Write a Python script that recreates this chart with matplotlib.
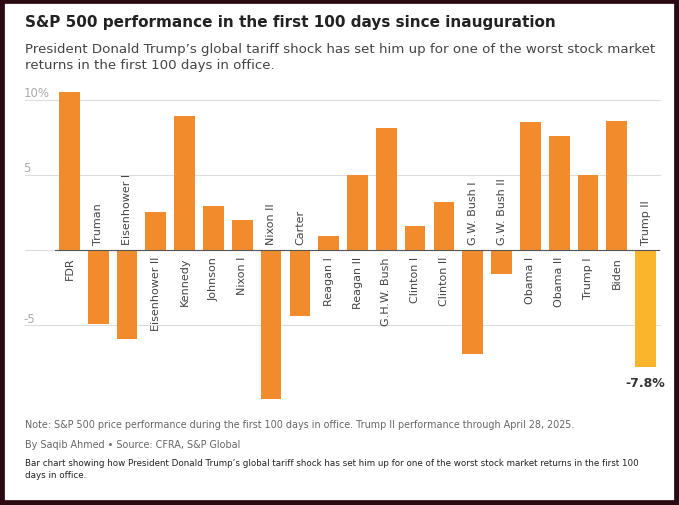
import matplotlib.pyplot as plt

presidents = ["FDR", "Truman", "Eisenhower I", "Eisenhower II", "Kennedy", "Johnson",
              "Nixon I", "Nixon II", "Carter", "Reagan I", "Reagan II", "G.H.W. Bush",
              "Clinton I", "Clinton II", "G.W. Bush I", "G.W. Bush II", "Obama I",
              "Obama II", "Trump I", "Biden", "Trump II"]
returns = [10.5, -4.9, -5.9, 2.5, 8.9, 2.9, 2.0, -9.9, -4.4, 0.9, 5.0, 8.1,
           1.6, 3.2, -6.9, -1.6, 8.5, 7.6, 5.0, 8.6, -7.8]
yticks = [-5, 0, 5, 10]
ytick_labels = ["-5", "", "5", "10%"]

fig = plt.figure(figsize=(6.79, 5.06), dpi=100)
fig.patch.set_facecolor("white")

# dark frame
frame = plt.Rectangle((0, 0), 1, 1, transform=fig.transFigure, fill=False,
                      edgecolor="#2b0a12", linewidth=7)
fig.add_artist(frame)

ax = fig.add_axes([55 / 679, 1 - 400 / 506, 605 / 679, 307 / 506])
x = range(len(presidents))
colors = ["#F28B2C"] * (len(presidents) - 1) + ["#FBB52C"]
ax.bar(x, returns, width=0.72, color=colors, zorder=2)
ax.set_xlim(-0.5, len(presidents) - 0.5)
ax.set_ylim(-9.9, 10.5)

for i, (name, v) in enumerate(zip(presidents, returns)):
    if v >= 0:
        ax.text(i, -0.4, name, rotation=90, ha="center", va="top", fontsize=8, color="#444444")
    else:
        ax.text(i, 0.4, name, rotation=90, ha="center", va="bottom", fontsize=8, color="#444444")
ax.text(len(presidents) - 1, returns[-1] - 0.6, "-7.8%", ha="center", va="top",
        fontsize=9, fontweight="bold", color="#333333")

ax.set_yticks(yticks)
ax.set_yticklabels([])
ax.set_xticks([])
for t, lab in zip(yticks, ytick_labels):
    ax.axhline(t, color="#dddddd", linewidth=0.8, zorder=1, xmin=-0.05, clip_on=False)
    ax.text(-0.052, t + 0.05, lab, transform=ax.get_yaxis_transform(), ha="left",
            va="bottom", fontsize=8.5, color="#aaaaaa")
ax.axhline(0, color="#555555", linewidth=0.8, zorder=3)
ax.tick_params(length=0)
for s in ax.spines.values():
    s.set_visible(False)

fig.text(25 / 679, 1 - 22 / 506, "S&P 500 performance in the first 100 days since inauguration",
         fontsize=11, fontweight="bold", color="#222222", va="center")
fig.text(25 / 679, 1 - 43 / 506,
         "President Donald Trump\u2019s global tariff shock has set him up for one of the worst stock market\nreturns in the first 100 days in office.",
         fontsize=9.6, color="#444444", va="top", linespacing=1.35)
fig.text(25 / 679, 1 - 425 / 506,
         "Note: S&P 500 price performance during the first 100 days in office. Trump II performance through April 28, 2025.",
         fontsize=6.9, color="#666666", va="center")
fig.text(25 / 679, 1 - 445 / 506, "By Saqib Ahmed \u2022 Source: CFRA, S&P Global",
         fontsize=6.9, color="#666666", va="center")
fig.text(25 / 679, 1 - 459 / 506,
         "Bar chart showing how President Donald Trump\u2019s global tariff shock has set him up for one of the worst stock market returns in the first 100\ndays in office.",
         fontsize=6.3, color="#222222", va="top", linespacing=1.45)

fig.savefig("out.png", dpi=100)
